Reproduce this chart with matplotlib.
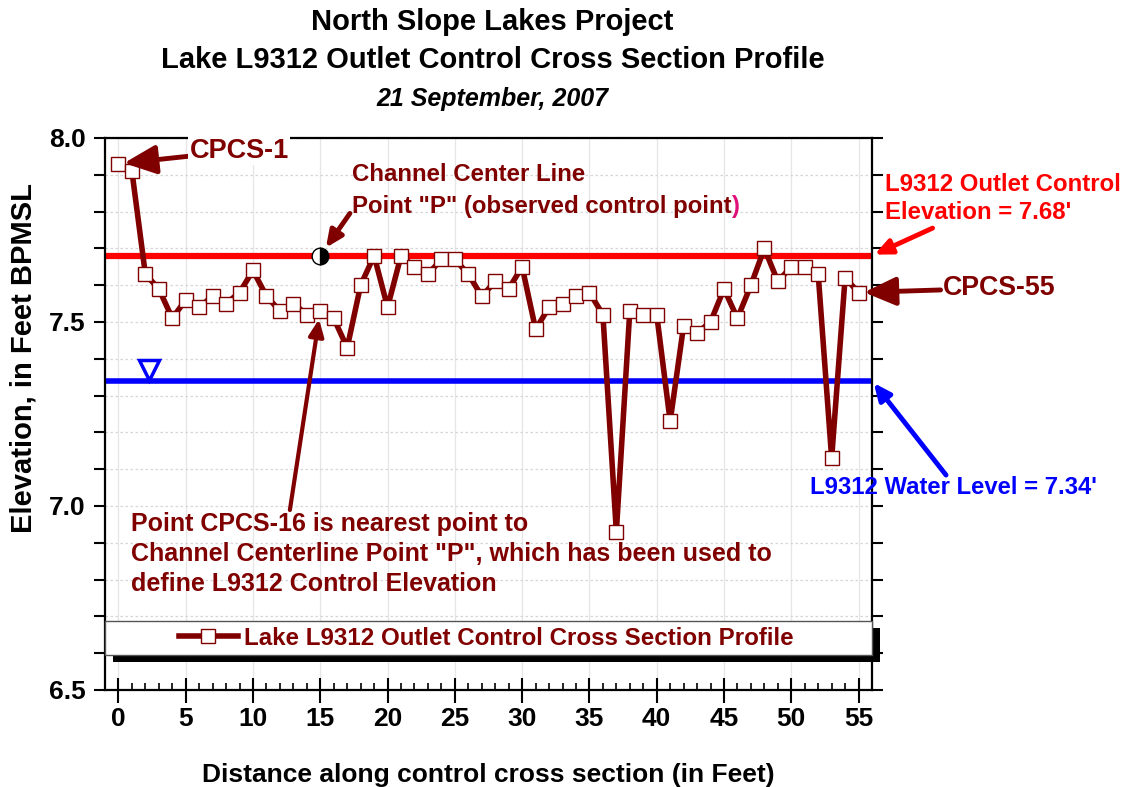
import matplotlib.pyplot as plt
from matplotlib.patches import Rectangle
from matplotlib.ticker import MultipleLocator

plt.switch_backend("AGG")
plt.rcParams["font.family"] = ["Liberation Sans", "DejaVu Sans"]
plt.rcParams["font.weight"] = "bold"

DARK_RED = "#800000"
OUTLET_RED = "#ff0000"
WATER_BLUE = "#0000ff"

# distance along cross section (ft) and elevation (ft BPMSL), CPCS-1 .. CPCS-55
distance = list(range(56))
elevation = [
    7.93, 7.91, 7.63, 7.59, 7.51, 7.56, 7.54, 7.57, 7.55, 7.58,
    7.64, 7.57, 7.53, 7.55, 7.52, 7.53, 7.51, 7.43, 7.60, 7.68,
    7.54, 7.68, 7.65, 7.63, 7.67, 7.67, 7.63, 7.57, 7.61, 7.59,
    7.65, 7.48, 7.54, 7.55, 7.57, 7.58, 7.52, 6.93, 7.53, 7.52,
    7.52, 7.23, 7.49, 7.47, 7.50, 7.59, 7.51, 7.60, 7.70, 7.61,
    7.65, 7.65, 7.63, 7.13, 7.62, 7.58,
]
outlet_level = 7.68
water_level = 7.34
point_p_x = 15
water_symbol_x = 2.3
series_label = "Lake L9312 Outlet Control Cross Section Profile"

fig = plt.figure(figsize=(11.3, 7.87), dpi=100)
ax = fig.add_axes([0.0929, 0.1233, 0.6788, 0.7014])

ax.set_xlim(-1, 56)
ax.set_ylim(6.5, 8.0)

# grid
ax.xaxis.set_major_locator(MultipleLocator(5))
ax.xaxis.set_minor_locator(MultipleLocator(1))
ax.yaxis.set_major_locator(MultipleLocator(0.5))
ax.yaxis.set_minor_locator(MultipleLocator(0.1))
ax.grid(axis="x", which="major", color="#e6e6e6", lw=0.9, zorder=0)
ax.grid(axis="y", which="both", color="#d6d6d6", lw=0.9, ls=(0, (2, 2)), zorder=0)
ax.set_axisbelow(True)

# reference levels
ax.axhline(outlet_level, color=OUTLET_RED, lw=4.5, zorder=2)
ax.axhline(water_level, color=WATER_BLUE, lw=4, zorder=2)

# profile
ax.plot(distance, elevation, color=DARK_RED, lw=4, marker="s", ms=9.5,
        mfc="white", mec=DARK_RED, mew=1, zorder=4, label=series_label)

# point P (half filled) and water level symbol
ax.plot([point_p_x], [outlet_level], marker="o", ms=12, fillstyle="right",
        mfc="black", mfcalt="white", mec="black", mew=1, ls="none", zorder=5)
ax.plot([water_symbol_x], [water_level + 0.03], marker="v", ms=14, mfc="white",
        mec=WATER_BLUE, mew=2.5, ls="none", zorder=5)

# axes styling
for s in ax.spines.values():
    s.set_linewidth(1.6)
ax.tick_params(axis="y", which="both", direction="out", length=8, width=1.5,
               right=True, labelsize=19, pad=6)
ax.tick_params(axis="x", which="major", direction="inout", length=18, width=1.5,
               labelsize=19, pad=3)
ax.tick_params(axis="x", which="minor", direction="in", length=5, width=1.2)
ax.set_yticks([6.5, 7.0, 7.5, 8.0])
ax.set_yticklabels(["6.5", "7.0", "7.5", "8.0"])
for lab in ax.get_xticklabels() + ax.get_yticklabels():
    lab.set_fontweight("bold")
ax.set_xlabel("Distance along control cross section (in Feet)", fontsize=19,
              fontweight="bold", labelpad=23)
fig.text(0.021, 0.545, "Elevation, in Feet BPMSL", fontsize=21, fontweight="bold",
         rotation=90, ha="center", va="center")

# legend box with black shadow
ax.add_patch(Rectangle((0.0104, 0.0507), 1.0, 0.0616, transform=ax.transAxes,
                       facecolor="black", edgecolor="none", zorder=5.8, clip_on=False))
ax.add_patch(Rectangle((0.0, 0.0634), 1.0, 0.0616, transform=ax.transAxes,
                       facecolor="white", edgecolor="#555555", lw=1, zorder=5.9,
                       clip_on=False))
leg = ax.legend(loc="center", bbox_to_anchor=(0.497, 0.094), frameon=False,
                fontsize=17.4, handlelength=2.45, handletextpad=0.25)
leg.set_zorder(6)
for t in leg.get_texts():
    t.set_color(DARK_RED)
    t.set_fontweight("bold")

arrow = dict(arrowstyle="-|>,head_length=1.0,head_width=0.45", color=DARK_RED,
             lw=3.5, shrinkA=0, shrinkB=4)

# annotations
ax.annotate("CPCS-1", xy=(distance[0], elevation[0]), xytext=(5.3, 7.965),
            fontsize=19.5, color=DARK_RED, ha="left", va="center",
            bbox=dict(facecolor="white", edgecolor="none", pad=1),
            arrowprops=arrow, annotation_clip=False, zorder=6)
ax.annotate("CPCS-55", xy=(distance[-1], elevation[-1]), xytext=(61.3, 7.592),
            fontsize=19.3, color=DARK_RED, ha="left", va="center",
            arrowprops=arrow, annotation_clip=False)

ax.text(17.33, 7.90, "Channel Center Line", fontsize=17.3, color=DARK_RED,
        ha="left", va="center")
line2 = ax.text(17.33, 7.813, 'Point "P" (observed control point', fontsize=17.3,
                color=DARK_RED, ha="left", va="center")
ax.annotate(")", xy=(1, 0), xycoords=line2, fontsize=17.3, color="#e0107a",
            ha="left", va="bottom")
ax.annotate("", xy=(point_p_x, outlet_level), xytext=(17.2, 7.795),
            arrowprops=dict(arrow, shrinkB=7), annotation_clip=False)

ax.annotate("L9312 Outlet Control\nElevation = 7.68'", xy=(56, outlet_level),
            xytext=(56.96, 7.836), fontsize=17.3, color=OUTLET_RED, ha="left",
            va="center", linespacing=1.3, annotation_clip=False)
ax.annotate("", xy=(56, outlet_level), xytext=(60.5, 7.755),
            arrowprops=dict(arrow, color=OUTLET_RED, shrinkB=2), annotation_clip=False)

ax.annotate("L9312 Water Level = 7.34'", xy=(56, water_level), xytext=(51.4, 7.049),
            fontsize=17.2, color=WATER_BLUE, ha="left", va="center",
            annotation_clip=False, zorder=6)
ax.annotate("", xy=(56, water_level), xytext=(61.5, 7.084),
            arrowprops=dict(arrow, color=WATER_BLUE, shrinkB=2), annotation_clip=False)

ax.text(0.9, 6.870,
        "Point CPCS-16 is nearest point to\n"
        "Channel Centerline Point \"P\", which has been used to\n"
        "define L9312 Control Elevation",
        fontsize=18, color=DARK_RED, ha="left", va="center", linespacing=1.32)
ax.annotate("", xy=(distance[15], elevation[15]), xytext=(12.74, 6.989),
            arrowprops=dict(arrow, lw=3, shrinkB=6), annotation_clip=False)

# titles
fig.text(0.4358, 0.972, "North Slope Lakes Project", fontsize=21, fontweight="bold",
         ha="center", va="center")
fig.text(0.4358, 0.9238, "Lake L9312 Outlet Control Cross Section Profile",
         fontsize=21, fontweight="bold", ha="center", va="center")
fig.text(0.4358, 0.874, "21 September, 2007", fontsize=18, fontweight="bold",
         style="italic", ha="center", va="center")

fig.savefig("out.png", dpi=100)
